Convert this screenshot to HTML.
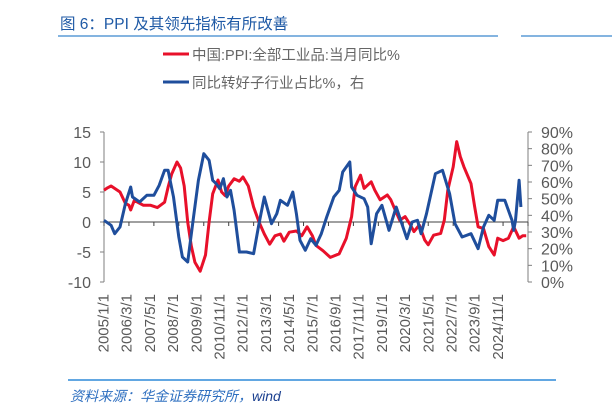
<!DOCTYPE html>
<html><head><meta charset="utf-8"><style>
body{margin:0;background:#fff;width:612px;height:417px;overflow:hidden;font-family:"Liberation Sans","Noto Sans CJK SC",sans-serif;}
svg{position:absolute;left:0;top:0}
</style></head><body>
<svg width="612" height="417">
<text x="60" y="29" font-size="15.5" fill="#1f5aa6" font-family="Liberation Sans, Noto Sans CJK SC, sans-serif">图 6：PPI 及其领先指标有所改善</text>
<line x1="58" y1="36" x2="498" y2="36" stroke="#5b9bd5" stroke-width="1.5"/>
<line x1="521" y1="36" x2="612" y2="36" stroke="#5b9bd5" stroke-width="1.5"/>
<g>
<line x1="163" y1="54" x2="189" y2="54" stroke="#e8102a" stroke-width="3"/>
<text x="192" y="60" font-size="14.5" fill="#666">中国:PPI:全部工业品:当月同比%</text>
<line x1="163" y1="82" x2="189" y2="82" stroke="#1f4e9c" stroke-width="3"/>
<text x="192" y="88" font-size="14.5" fill="#666">同比转好子行业占比%，右</text>
</g>
<g id="axes"></g>
<g id="series"></g>
<line x1="68" y1="380" x2="556" y2="380" stroke="#2e8ad8" stroke-width="1.5"/>
<text x="70" y="401" font-size="14" font-style="italic" fill="#2e6fc0">资料来源：华金证券研究所，<tspan fill="#1a3f8f">wind</tspan></text>
</svg>
<script>
const leftTicks=[15,10,5,0,-5,-10];
const rightTicks=[90,80,70,60,50,40,30,20,10,0];
const xLabels=["2005/1/1","2006/3/1","2007/5/1","2008/7/1","2009/9/1","2010/11/1","2012/1/1","2013/3/1","2014/5/1","2015/7/1","2016/9/1","2017/11/1","2019/1/1","2020/3/1","2021/5/1","2022/7/1","2023/9/1","2024/11/1"];
const ppiMonths=[0,2,4,9,12,14,15,17,22,26,30,34,36,38,41,43,45,47,49,51,54,57,59,61,64,66,68,70,73,76,78,81,84,87,90,93,96,99,101,104,108,111,114,117,119,123,127,132,136,139,141,144,146,150,152,155,159,161,163,166,169,172,174,177,180,182,185,189,191,193,196,198,200,202,206,208,210,213,216,219,221,224,227,230,233,235,237];
const ppiValues=[5.3,5.7,6.0,5.0,3.1,2.8,2.0,3.6,2.8,2.8,2.4,3.3,5.8,8.0,10.0,9.0,6.0,0,-4,-6.7,-8.2,-5.5,0,4.7,7.0,5.0,4.4,6.0,7.2,6.8,7.5,6.0,2.5,0,-2,-3.7,-2.3,-2,-3.2,-1.7,-1.5,-2.3,-0.8,-2.3,-3.9,-4.8,-5.9,-5.3,-2.7,0.9,5.9,7.8,5.6,6.7,5.3,3.7,4.5,3.7,2.3,0.3,0.9,-0.5,-1.6,-0.5,-3,-3.8,-2.2,-1.9,0.3,5.3,9.2,13.4,10.9,9.2,6.4,2.6,-0.8,-1.1,-4.1,-5.5,-2.7,-3.1,-2.7,-0.8,-2.7,-2.3,-2.3];
const shareMonths=[0,4,6,9,12,15,16,20,24,28,31,34,36,39,42,44,47,50,53,56,59,61,63,65,67,69,71,73,76,80,84,87,90,94,97,99,103,106,108,110,113,116,119,122,125,129,132,134,138,139,142,146,148,150,153,156,160,164,170,173,176,178,181,186,190,194,197,201,206,210,213,216,219,221,225,229,230,231,233,234];
const shareValues=[37,34,29,33,47,57,51,48,52,52,58,67,67,51,27,15,12,37,61,77,73,61,59,56,62,51,55,43,18,18,17,35,51,35,41,49,46,54,41,25,19,26,22,29,39,51,55,66,72,57,52,50,45,23,41,46,31,45,26,36,37,29,41,65,67,53,35,27,29,20,33,40,37,49,49,37,31,37,61,45];
const NS="http://www.w3.org/2000/svg";
const X0=104,X1=528,YT=132,YB=282,MONTHS=238;
const xs=m=>X0+(X1-X0)*m/MONTHS;
const yl=v=>YB-(v+10)*(YB-YT)/25;
const yr=v=>YB-v*(YB-YT)/90;
function mk(tag,attrs,parent){const e=document.createElementNS(NS,tag);for(const k in attrs)e.setAttribute(k,attrs[k]);parent.appendChild(e);return e;}
const ax=document.getElementById('axes');
let e=mk('line',{x1:X0,y1:YT,x2:X0,y2:YB,stroke:'#7f7f7f','stroke-width':1},ax);


e=mk('line',{x1:X1,y1:YT,x2:X1,y2:YB,stroke:'#7f7f7f','stroke-width':1},ax);


e=mk('line',{x1:X0,y1:yl(0),x2:X1,y2:yl(0),stroke:'#404040','stroke-width':1},ax);


leftTicks.forEach(v=>{
 mk('line',{x1:X0-4,y1:yl(v),x2:X0,y2:yl(v),stroke:'#7f7f7f'},ax);
 const t=mk('text',{x:91,y:yl(v)+6,'font-size':16,fill:'#595959','text-anchor':'end'},ax);
 t.textContent=v;
 
 
});
rightTicks.forEach(v=>{
 mk('line',{x1:X1,y1:yr(v),x2:X1+4,y2:yr(v),stroke:'#7f7f7f'},ax);
 const t=mk('text',{x:541,y:yr(v)+6,'font-size':16,fill:'#595959'},ax);
 t.textContent=v+'%';
 
 
});
xLabels.forEach((s,i)=>{
 const tx=X0+(X1-X0)*i/(xLabels.length-1);
 mk('line',{x1:tx,y1:yl(0),x2:tx,y2:yl(0)+4,stroke:'#404040'},ax);
 const lx=103+i*23.2+5.5;
 const t=mk('text',{x:0,y:0,'font-size':15,fill:'#595959','text-anchor':'end',transform:`translate(${lx},294) rotate(-90)`},ax);
 t.textContent=s;
 
 
});
const se=document.getElementById('series');
let p=mk('polyline',{points:ppiMonths.map((m,i)=>xs(m).toFixed(1)+','+yl(ppiValues[i]).toFixed(1)).join(' '),fill:'none',stroke:'#e8102a','stroke-width':3,'stroke-linejoin':'round'},se);


p=mk('polyline',{points:shareMonths.map((m,i)=>xs(m).toFixed(1)+','+yr(shareValues[i]).toFixed(1)).join(' '),fill:'none',stroke:'#1f4e9c','stroke-width':3,'stroke-linejoin':'round'},se);


</script>
</body></html>
